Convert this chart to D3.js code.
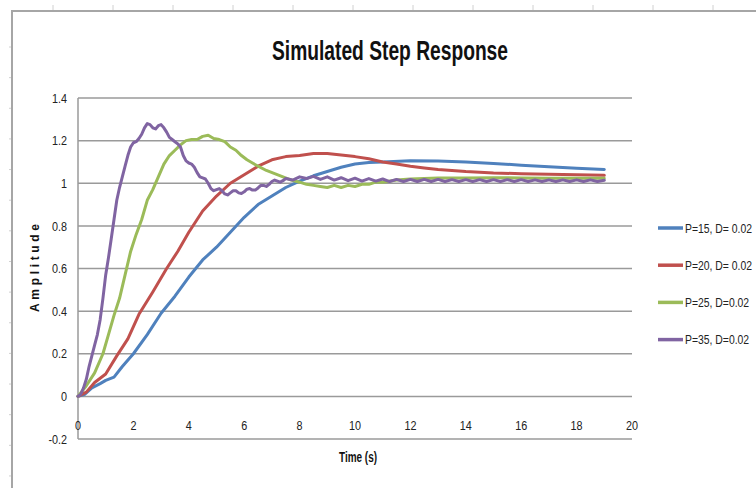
<!DOCTYPE html>
<html>
<head>
<meta charset="utf-8">
<script src="https://cdn.jsdelivr.net/npm/d3@7"></script>
<style>
  html, body { margin: 0; padding: 0; background: #fff; }
  svg { display: block; }
  text { font-family: "Liberation Sans", Arial, sans-serif; }
</style>
</head>
<body>
<svg id="chart" width="756" height="488"></svg>
<script>
// Step responses of the PD-controlled plant, amplitude vs time (s)
const seriesLabels = ["P=15, D= 0.02", "P=20, D= 0.02", "P=25, D=0.02", "P=35, D=0.02"];
const seriesColors = ["#4F81BD", "#C0504D", "#9BBB59", "#8064A2"];

const p15 = [[0,0],[0.25,0.01],[0.5,0.04],[0.8,0.06],[1.0,0.075],[1.3,0.09],[1.6,0.14],[2.0,0.2],[2.5,0.29],[3.0,0.39],[3.5,0.47],[4.0,0.56],[4.5,0.64],[5.0,0.7],[5.5,0.77],[6.0,0.84],[6.5,0.9],[7.0,0.94],[7.5,0.98],[8.0,1.01],[8.5,1.035],[9.0,1.055],[9.5,1.075],[10.0,1.09],[10.5,1.097],[11.0,1.1],[12.0,1.105],[13.0,1.104],[14.0,1.1],[15.0,1.093],[16.0,1.085],[17.0,1.077],[18.0,1.07],[19.0,1.065]];

const p20 = [[0,0],[0.3,0.02],[0.6,0.065],[1.0,0.105],[1.4,0.19],[1.8,0.27],[2.2,0.385],[2.7,0.49],[3.2,0.6],[3.6,0.68],[4.0,0.77],[4.5,0.87],[5.0,0.94],[5.5,1.0],[6.0,1.04],[6.5,1.08],[7.0,1.11],[7.5,1.125],[8.0,1.13],[8.5,1.14],[9.0,1.14],[9.5,1.133],[10.0,1.125],[10.5,1.115],[11.0,1.1],[11.5,1.09],[12.0,1.08],[12.5,1.072],[13.0,1.065],[14.0,1.055],[15.0,1.048],[16.0,1.045],[17.0,1.042],[18.0,1.04],[19.0,1.037]];

const p25 = [[0,0],[0.3,0.05],[0.6,0.11],[0.9,0.2],[1.1,0.29],[1.3,0.38],[1.5,0.46],[1.7,0.57],[1.9,0.68],[2.1,0.76],[2.3,0.83],[2.5,0.92],[2.7,0.97],[2.9,1.03],[3.1,1.09],[3.3,1.13],[3.5,1.155],[3.7,1.18],[3.9,1.2],[4.1,1.205],[4.3,1.205],[4.5,1.22],[4.7,1.225],[4.9,1.21],[5.1,1.205],[5.3,1.195],[5.5,1.17],[5.7,1.155],[5.9,1.13],[6.1,1.11],[6.3,1.095],[6.5,1.08],[6.8,1.06],[7.1,1.045],[7.4,1.03],[7.7,1.015],[8.0,1.005],[8.25,0.995],[8.5,0.99],[8.75,0.985],[9.0,0.98],[9.25,0.99],[9.5,0.98],[9.75,0.99],[10.0,0.985],[10.25,0.995],[10.5,0.995],[10.75,1.005],[11.0,1.005],[11.5,1.015],[12.0,1.02],[12.5,1.022],[13.0,1.025],[14.0,1.025],[15.0,1.026],[16.0,1.025],[17.0,1.024],[18.0,1.024],[19.0,1.023]];

const p35 = [[0,0],[0.1,0.01],[0.2,0.04],[0.3,0.08],[0.4,0.14],[0.5,0.19],[0.6,0.24],[0.7,0.29],[0.8,0.36],[0.9,0.46],[1.0,0.57],[1.1,0.65],[1.2,0.74],[1.3,0.83],[1.4,0.92],[1.5,0.98],[1.6,1.03],[1.7,1.08],[1.8,1.13],[1.9,1.17],[2.0,1.19],[2.1,1.195],[2.2,1.21],[2.3,1.23],[2.4,1.26],[2.5,1.28],[2.6,1.275],[2.7,1.26],[2.8,1.255],[2.9,1.27],[3.0,1.275],[3.1,1.26],[3.2,1.24],[3.3,1.215],[3.4,1.205],[3.5,1.195],[3.6,1.185],[3.7,1.17],[3.8,1.13],[3.9,1.105],[4.0,1.095],[4.1,1.09],[4.2,1.075],[4.3,1.05],[4.4,1.03],[4.5,1.025],[4.6,1.02],[4.7,1.0],[4.8,0.975],[4.9,0.965],[5.0,0.97],[5.1,0.975],[5.2,0.965],[5.3,0.95],[5.4,0.945],[5.5,0.955],[5.6,0.965],[5.7,0.965],[5.8,0.955],[5.9,0.952],[6.0,0.96],[6.1,0.972],[6.2,0.975],[6.3,0.968],[6.4,0.968],[6.5,0.978],[6.6,0.99],[6.7,0.99],[6.8,0.985],[6.9,0.995],[7.0,1.008],[7.1,1.015],[7.2,1.01],[7.3,1.005],[7.4,1.012],[7.5,1.022],[7.75,1.015],[8.0,1.03],[8.25,1.022],[8.5,1.032],[8.75,1.018],[9.0,1.03],[9.25,1.015],[9.5,1.026],[9.75,1.012],[10.0,1.024],[10.25,1.01],[10.5,1.022],[10.75,1.01],[11.0,1.02],[11.25,1.008],[11.5,1.018],[11.75,1.008],[12.0,1.018],[12.25,1.008],[12.5,1.018],[12.75,1.008],[13.0,1.018],[13.25,1.008],[13.5,1.017],[13.75,1.008],[14.0,1.017],[14.25,1.008],[14.5,1.017],[14.75,1.008],[15.0,1.017],[15.25,1.008],[15.5,1.017],[15.75,1.008],[16.0,1.017],[16.25,1.008],[16.5,1.016],[16.75,1.008],[17.0,1.016],[17.25,1.008],[17.5,1.016],[17.75,1.008],[18.0,1.016],[18.25,1.008],[18.5,1.016],[18.75,1.008],[19.0,1.014]];

const xTicks = [0, 2, 4, 6, 8, 10, 12, 14, 16, 18, 20];
const yTicks = [-0.2, 0, 0.2, 0.4, 0.6, 0.8, 1, 1.2, 1.4];
const yTickLabels = ["-0.2", "0", "0.2", "0.4", "0.6", "0.8", "1", "1.2", "1.4"];

const svg = d3.select("#chart");

// squeeze text horizontally to mimic a condensed face
function condense(sel, factor) {
  sel.each(function () {
    const w = this.getComputedTextLength();
    d3.select(this).attr("textLength", w * factor).attr("lengthAdjust", "spacingAndGlyphs");
  });
}

// outer chart frame with its ruler ticks
const frame = svg.append("g");
frame.append("path").attr("d", "M12,488 V11 H756")
  .attr("fill", "none").attr("stroke", "#a6a6a6").attr("stroke-width", 2);
d3.range(12).forEach(i => {
  frame.append("line").attr("x1", 53 + 60 * i).attr("x2", 53 + 60 * i)
    .attr("y1", 5).attr("y2", 10).attr("stroke", "#d0d0d0");
});
d3.range(15).forEach(i => {
  const yy = 47 + 30.64 * i;
  frame.append("line").attr("x1", 9).attr("x2", 11)
    .attr("y1", yy).attr("y2", yy).attr("stroke", "#d0d0d0");
});

// plot scales
const x = d3.scaleLinear().domain([0, 20]).range([78, 632]);
const y = d3.scaleLinear().domain([-0.2, 1.4]).range([439, 98]);

// horizontal gridlines
svg.append("g").selectAll("line").data(yTicks).join("line")
  .attr("x1", x(0)).attr("x2", x(20))
  .attr("y1", d => y(d)).attr("y2", d => y(d))
  .attr("stroke", "#9a9a9a").attr("stroke-width", 1.5);

// vertical axis line
svg.append("line").attr("x1", x(0)).attr("x2", x(0))
  .attr("y1", y(1.4)).attr("y2", y(-0.2))
  .attr("stroke", "#9a9a9a").attr("stroke-width", 1.5);

// y tick labels
svg.append("g").selectAll("text").data(yTicks).join("text")
  .attr("x", 67).attr("y", d => y(d))
  .attr("dy", "0.35em").attr("text-anchor", "end")
  .attr("font-size", 13.5).attr("fill", "#222")
  .text((d, i) => yTickLabels[i])
  .call(condense, 0.8);

// x tick labels, placed between the zero line and the bottom line
svg.append("g").selectAll("text").data(xTicks).join("text")
  .attr("x", d => x(d)).attr("y", 425)
  .attr("dy", "0.35em").attr("text-anchor", "middle")
  .attr("font-size", 13.5).attr("fill", "#222")
  .text(d => d)
  .call(condense, 0.8);

// response curves
const line = d3.line().x(d => x(d[0])).y(d => y(d[1])).curve(d3.curveLinear);
const allSeries = [p15, p20, p25, p35];
svg.append("g").selectAll("path").data(allSeries).join("path")
  .attr("d", line)
  .attr("fill", "none")
  .attr("stroke", (d, i) => seriesColors[i])
  .attr("stroke-width", 3)
  .attr("stroke-linejoin", "round")
  .attr("stroke-linecap", "round");

// title
svg.append("text")
  .attr("x", 390).attr("y", 60).attr("text-anchor", "middle")
  .attr("font-size", 28).attr("font-weight", "bold").attr("fill", "#111")
  .attr("textLength", 236).attr("lengthAdjust", "spacingAndGlyphs")
  .text("Simulated Step Response");

// axis titles
svg.append("text")
  .attr("x", 358).attr("y", 462).attr("text-anchor", "middle")
  .attr("font-size", 14).attr("font-weight", "bold").attr("fill", "#111")
  .attr("textLength", 38).attr("lengthAdjust", "spacingAndGlyphs")
  .text("Time (s)");

svg.append("text")
  .attr("transform", "translate(39,268) rotate(-90)")
  .attr("text-anchor", "middle")
  .attr("font-size", 12).attr("font-weight", "bold").attr("fill", "#111")
  .attr("textLength", 88).attr("lengthAdjust", "spacing")
  .text("Amplitude");

// legend: swatch plus a horizontally condensed label
const legend = svg.append("g");
const rows = legend.selectAll("g").data(seriesLabels).join("g")
  .attr("transform", (d, i) => `translate(658,${228 + 37.2 * i})`);
rows.append("line").attr("x1", 0).attr("x2", 25).attr("y1", 0).attr("y2", 0)
  .attr("stroke", (d, i) => seriesColors[i]).attr("stroke-width", 3.5);
rows.append("text")
  .attr("transform", "translate(27,0) scale(0.8,1)")
  .attr("dy", "0.35em")
  .attr("font-size", 13).attr("fill", "#222")
  .text(d => d);
</script>
</body>
</html>
